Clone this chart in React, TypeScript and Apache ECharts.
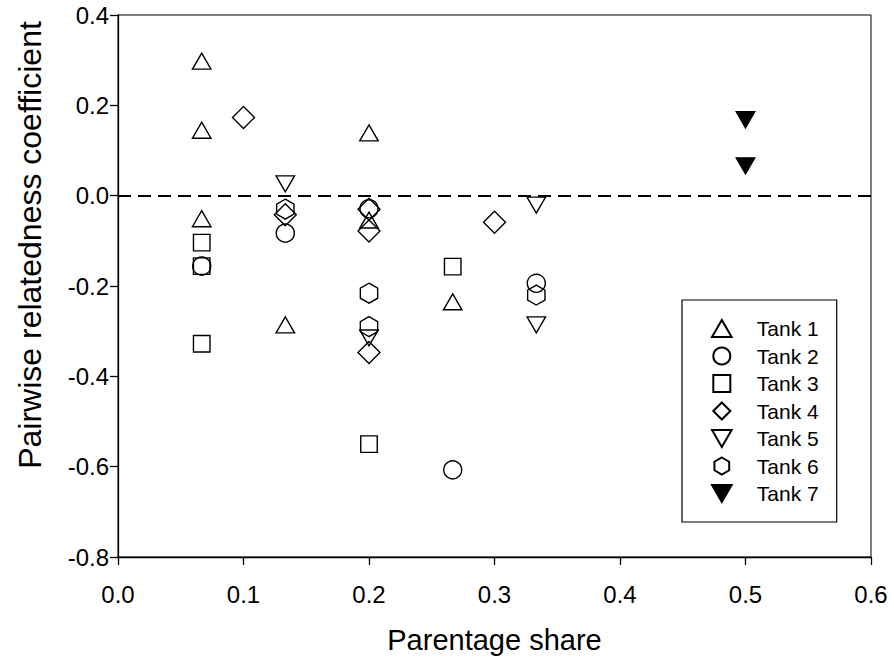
import React, { useEffect, useRef } from "react";
import * as echarts from "echarts";

// Parentage share (x) vs pairwise relatedness coefficient (y), per tank
const tank1: number[][] = [
  [0.0667, 0.298], [0.0667, 0.145], [0.0667, -0.051], [0.1333, -0.286],
  [0.2, 0.139], [0.2, -0.054], [0.2667, -0.235],
];
const tank2: number[][] = [
  [0.0667, -0.156], [0.1333, -0.083], [0.2, -0.029], [0.2667, -0.607], [0.3333, -0.194],
];
const tank3: number[][] = [
  [0.0667, -0.104], [0.0667, -0.156], [0.0667, -0.328], [0.2, -0.55], [0.2667, -0.157],
];
const tank4: number[][] = [
  [0.1, 0.173], [0.1333, -0.042], [0.2, -0.03], [0.2, -0.078], [0.2, -0.347], [0.3, -0.059],
];
const tank5: number[][] = [
  [0.1333, 0.026], [0.2, -0.315], [0.3333, -0.021], [0.3333, -0.286],
];
const tank6: number[][] = [
  [0.1333, -0.03], [0.2, -0.216], [0.2, -0.29], [0.3333, -0.22],
];
const tank7: number[][] = [
  [0.5, 0.168], [0.5, 0.066],
];

const seriesNames = ["Tank 1", "Tank 2", "Tank 3", "Tank 4", "Tank 5", "Tank 6", "Tank 7"];
const seriesData = [tank1, tank2, tank3, tank4, tank5, tank6, tank7];

const xTicks = { min: 0, max: 0.6, interval: 0.1 };
const yTicks = { min: -0.8, max: 0.4, interval: 0.2 };
const referenceLine = 0;

const xTitle = "Parentage share";
const yTitle = "Pairwise relatedness coefficient";

const TRI_UP = "path://M0,-0.866L1,0.866L-1,0.866Z";
const TRI_DOWN = "path://M-1,-0.866L1,-0.866L0,0.866Z";
const HEXAGON = "path://M0,-1L0.866,-0.5L0.866,0.5L0,1L-0.866,0.5L-0.866,-0.5Z";
const SQUARE = "path://M-1,-1L1,-1L1,1L-1,1Z";
const DIAMOND = "path://M0,-1L1,0L0,1L-1,0Z";

const symbols = [TRI_UP, "circle", SQUARE, DIAMOND, TRI_DOWN, HEXAGON, TRI_DOWN];
const symbolSizes = [18.5, 18, 16.5, 22, 18.5, 20, 18.5];

const FONT = "'Liberation Sans', Arial, Helvetica, sans-serif";

export default function App() {
  const ref = useRef<HTMLDivElement>(null);

  useEffect(() => {
    document.body.style.margin = "0";
    if (!ref.current) return;
    const chart = echarts.init(ref.current, null, { renderer: "svg" });

    const series: any[] = seriesNames.map((name, i) => ({
      name,
      type: "scatter",
      data: seriesData[i],
      symbol: symbols[i],
      symbolSize: symbolSizes[i],
      symbolKeepAspect: true,
      itemStyle: {
        color: i === 6 ? "#000" : "rgba(255,255,255,0)",
        borderColor: "#000",
        borderWidth: 1.4,
        opacity: 1,
      },
      emphasis: { disabled: true },
      z: 3,
    }));

    series[0].markLine = {
      silent: true,
      symbol: "none",
      label: { show: false },
      lineStyle: { type: [13, 7], color: "#000", width: 2 },
      data: [{ yAxis: referenceLine }],
      z: 2,
    };

    chart.setOption({
      animation: false,
      backgroundColor: "#fff",
      grid: {
        left: 118,
        right: 23,
        top: 15,
        bottom: 102,
        show: true,
        borderColor: "#000",
        borderWidth: 1,
        backgroundColor: "transparent",
      },
      graphic: [
        {
          type: "text",
          x: 30,
          y: 245,
          rotation: Math.PI / 2,
          style: {
            text: yTitle,
            fontSize: 32,
            fontFamily: FONT,
            fill: "#000",
            textAlign: "center",
            textVerticalAlign: "middle",
          },
        },
      ],
      xAxis: {
        type: "value",
        min: xTicks.min,
        max: xTicks.max,
        interval: xTicks.interval,
        name: xTitle,
        nameLocation: "middle",
        nameGap: 68,
        nameTextStyle: { fontSize: 29, color: "#000", fontFamily: FONT },
        axisLine: { show: true, onZero: false, lineStyle: { color: "#000", width: 1.3 } },
        axisTick: { show: true, inside: false, length: 8, lineStyle: { color: "#000", width: 1.3 } },
        axisLabel: {
          fontSize: 24,
          color: "#000",
          fontFamily: FONT,
          margin: 25,
          formatter: (v: number) => v.toFixed(1),
        },
        splitLine: { show: false },
      },
      yAxis: {
        type: "value",
        min: yTicks.min,
        max: yTicks.max,
        interval: yTicks.interval,
        axisLine: { show: true, onZero: false, lineStyle: { color: "#000", width: 1.3 } },
        axisTick: { show: true, inside: false, length: 8, lineStyle: { color: "#000", width: 1.3 } },
        axisLabel: {
          fontSize: 24,
          color: "#000",
          fontFamily: FONT,
          margin: 9,
          formatter: (v: number) => v.toFixed(1),
        },
        splitLine: { show: false },
      },
      legend: {
        orient: "vertical",
        left: 682,
        top: 300,
        padding: [18, 18, 18, 29],
        itemWidth: 60,
        itemHeight: 17,
        itemGap: 6.5,
        borderColor: "#000",
        borderWidth: 1.2,
        backgroundColor: "#fff",
        selectedMode: false,
        textStyle: { fontSize: 21, color: "#000", fontFamily: FONT },
        data: seriesNames,
      },
      series,
    });

    return () => chart.dispose();
  }, []);

  return <div ref={ref} style={{ width: 894, height: 659 }} />;
}
